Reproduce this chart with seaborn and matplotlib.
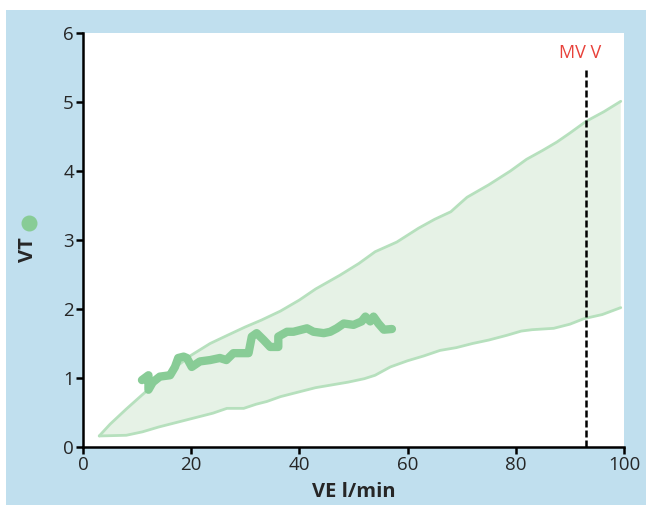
import matplotlib
matplotlib.use("Agg")
import matplotlib.pyplot as plt
from matplotlib.patches import Rectangle
from matplotlib.lines import Line2D
import seaborn as sns
import pandas as pd

# Reference band: upper and lower limits of tidal volume vs. ventilation
upper_ve = [3, 5, 8, 11, 15, 20, 23.5, 27, 30, 33, 36.5, 40, 43, 47.5, 51, 54, 58,
            62, 65, 68, 69.7, 71, 75, 79, 82, 85, 87.6, 90, 93, 96.3, 99.4]
upper_vt = [0.16, 0.33, 0.55, 0.76, 1.03, 1.33, 1.50, 1.63, 1.74, 1.84, 1.97, 2.13, 2.29,
            2.49, 2.66, 2.83, 2.97, 3.17, 3.30, 3.41, 3.53, 3.62, 3.80, 4.00, 4.17,
            4.30, 4.42, 4.55, 4.72, 4.86, 5.01]
lower_ve = [3, 8, 11, 14, 17, 20.5, 24, 26.6, 29.7, 32, 34, 36.5, 40, 43, 46, 49, 52,
            54, 56.8, 60, 63, 66, 69, 72, 75, 78.4, 81, 83, 87, 90, 92.6, 96, 99.4]
lower_vt = [0.16, 0.17, 0.22, 0.29, 0.35, 0.42, 0.49, 0.56, 0.56, 0.62, 0.66, 0.73,
            0.80, 0.86, 0.90, 0.94, 0.99, 1.04, 1.16, 1.25, 1.32, 1.40, 1.44, 1.50,
            1.55, 1.62, 1.68, 1.70, 1.72, 1.78, 1.86, 1.92, 2.02]

# Measured tidal volume during the test
trace_ve = [10.9, 12.1, 12.1, 12.9, 14.2, 16.1, 17.0, 17.6, 18.6, 19.2, 20.1, 21.6,
            23.5, 25.3, 26.5, 27.8, 29.3, 30.6, 31.2, 32.1, 33.4, 34.6, 36.1, 36.1,
            37.7, 38.9, 41.4, 42.6, 44.5, 45.7, 46.9, 48.2, 50.0, 51.5, 52.2, 53.1,
            53.7, 54.6, 55.6, 57.1]
trace_vt = [0.97, 1.04, 0.83, 0.94, 1.02, 1.04, 1.16, 1.29, 1.31, 1.29, 1.16, 1.24,
            1.26, 1.29, 1.26, 1.36, 1.36, 1.36, 1.60, 1.65, 1.55, 1.45, 1.45, 1.60,
            1.67, 1.67, 1.72, 1.67, 1.65, 1.67, 1.72, 1.79, 1.77, 1.82, 1.89, 1.82,
            1.89, 1.79, 1.70, 1.71]

mvv = 93
mvv_label = "MV V"
x_ticks = [0, 20, 40, 60, 80, 100]
y_ticks = [0, 1, 2, 3, 4, 5, 6]

sns.set_style("ticks")
plt.rcParams["font.family"] = ["Open Sans", "DejaVu Sans"]

BLUE = "#c0dfee"
FILL = "#e6f2e6"
EDGE = "#b6e0bd"
TRACE = "#88cc96"

fig = plt.figure(figsize=(6.46, 5.05), dpi=100)
fig.patch.set_facecolor("white")
panel = Rectangle((6 / 646, 0), 1, (505 - 10) / 505, transform=fig.transFigure,
                  facecolor=BLUE, edgecolor="none", zorder=-10)
fig.add_artist(panel)

ax = fig.add_axes([83 / 646, (505 - 447) / 505, (624 - 83) / 646, (447 - 33) / 505])
ax.set_zorder(5)
ax.set_facecolor("white")

# Band
poly_x = upper_ve + lower_ve[::-1]
poly_y = upper_vt + lower_vt[::-1]
ax.fill(poly_x, poly_y, color=FILL, lw=0, zorder=1)
band_up = pd.DataFrame({"VE": upper_ve, "VT": upper_vt})
band_lo = pd.DataFrame({"VE": lower_ve, "VT": lower_vt})
sns.lineplot(data=band_up, x="VE", y="VT", ax=ax, color=EDGE, lw=2, zorder=2)
sns.lineplot(data=band_lo, x="VE", y="VT", ax=ax, color=EDGE, lw=2, zorder=2)

# Measured trace
trace = pd.DataFrame({"VE": trace_ve, "VT": trace_vt})
sns.lineplot(data=trace, x="VE", y="VT", ax=ax, sort=False, estimator=None,
             color=TRACE, lw=6, solid_joinstyle="round", solid_capstyle="round",
             zorder=3)

# MVV marker
ax.plot([mvv, mvv], [0, 5.48], color="black", lw=1.8,
        linestyle=(0, (2.8, 1.2)), zorder=4)
ax.text(mvv - 1.2, 5.71, mvv_label, color="#e8413a", fontsize=13,
        ha="center", va="center")

ax.set_xlim(0, 100)
ax.set_ylim(0, 6)
ax.set_xticks(x_ticks)
ax.set_yticks(y_ticks)
ax.tick_params(axis="both", direction="out", length=5, width=1.8,
               labelsize=13.5, pad=1.5, color="black")
for s in ["top", "right"]:
    ax.spines[s].set_visible(False)
for s in ["left", "bottom"]:
    ax.spines[s].set_linewidth(1.8)
    ax.spines[s].set_color("black")

ax.set_xlabel("VE l/min", fontsize=14.5, fontweight="bold", labelpad=6)
ax.set_ylabel("VT", fontsize=14.5, fontweight="bold")
ax.yaxis.label.set_va("center")
ax.yaxis.set_label_coords((28 - 83) / (624 - 83), (447 - 250) / (447 - 33))

# Series dot above the y label
fig.add_artist(Line2D([29 / 646], [(505 - 223) / 505], marker="o",
                      markersize=10.5, color=TRACE, transform=fig.transFigure,
                      linestyle="none", zorder=6))

fig.savefig("out.png", dpi=100)
